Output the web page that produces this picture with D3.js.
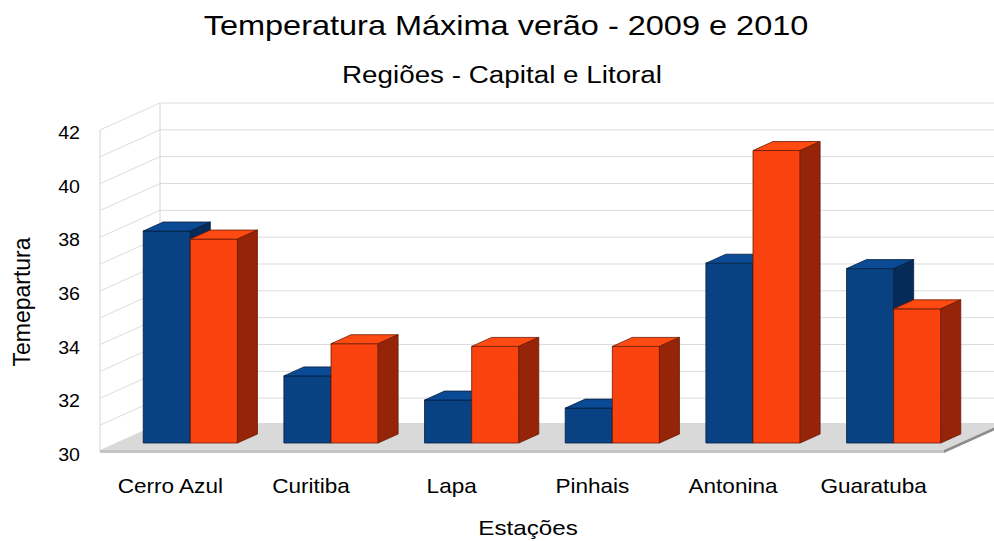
<!DOCTYPE html>
<html>
<head>
<meta charset="utf-8">
<script src="https://cdn.jsdelivr.net/npm/d3@7"></script>
<style>
  body { margin: 0; background: #fff; }
  svg text { font-family: "Liberation Sans", Arial, sans-serif; fill: #000; }
</style>
</head>
<body>
<svg id="chart"></svg>
<script>
const width = 994;
const height = 541;

// data
const stations = ["Cerro Azul", "Curitiba", "Lapa", "Pinhais", "Antonina", "Guaratuba"];
const years = ["2009", "2010"];
const max2009 = [37.9, 32.5, 31.6, 31.3, 36.7, 36.5];
const max2010 = [37.6, 33.7, 33.6, 33.6, 40.9, 35.0];
const yTicks = [30, 32, 34, 36, 38, 40, 42];

const colors = {
  "2009": {front: "#084283", top: "#0b4a94", side: "#072b59", line: "#05203f"},
  "2010": {front: "#fa420f", top: "#ff4a12", side: "#952409", line: "#6a1a05"}
};

// depth of the "3d" box (back wall offset)
const depth = [60, -27];

const svg = d3.select('#chart')
    .attr('width', width)
    .attr('height', height)
    .attr('viewBox', [0, 0, width, height]);

const x = d3.scaleBand(stations, [100, 944]).paddingInner(0.33).paddingOuter(0.165);
const xs = d3.scaleBand(years, [0, x.bandwidth()]);
const y = d3.scaleLinear([30, 42], [452, 130]);

// ---- walls & grid
const grid = svg.append('g').attr('id', 'grid');
const gridValues = d3.range(30, 43);
const x0 = x.range()[0], x1 = x.range()[1];

grid.selectAll('line.back')
  .data(gridValues)
  .enter().append('line')
    .attr('class', 'back')
    .attr('x1', x0 + depth[0]).attr('x2', x1 + depth[0])
    .attr('y1', d => y(d) + depth[1]).attr('y2', d => y(d) + depth[1])
    .attr('stroke', '#dcdcdc').attr('stroke-width', 1);

grid.selectAll('line.side')
  .data(gridValues)
  .enter().append('line')
    .attr('class', 'side')
    .attr('x1', x0).attr('x2', x0 + depth[0])
    .attr('y1', d => y(d)).attr('y2', d => y(d) + depth[1])
    .attr('stroke', '#dcdcdc').attr('stroke-width', 1);

grid.append('line')
    .attr('x1', x0).attr('x2', x0)
    .attr('y1', y(30)).attr('y2', y(42))
    .attr('stroke', '#d4d4d4');
grid.append('line')
    .attr('x1', x0 + depth[0]).attr('x2', x0 + depth[0])
    .attr('y1', y(30) + depth[1]).attr('y2', y(42) + depth[1])
    .attr('stroke', '#d4d4d4');

// ---- floor
const fy = y(30) - 2, thick = 3;
const floor = svg.append('g').attr('id', 'floor');
floor.append('path')
    .attr('d', `M${x0},${fy} L${x1},${fy} L${x1 + depth[0]},${fy + depth[1]} L${x0 + depth[0]},${fy + depth[1]} Z`)
    .attr('fill', '#d9d9d9');
floor.append('path')
    .attr('d', `M${x0},${fy} L${x1},${fy} L${x1},${fy + thick} L${x0},${fy + thick} Z`)
    .attr('fill', '#c4c4c4');
floor.append('path')
    .attr('d', `M${x1},${fy} L${x1 + depth[0]},${fy + depth[1]} L${x1 + depth[0]},${fy + depth[1] + thick} L${x1},${fy + thick} Z`)
    .attr('fill', '#8c8c8c');

// ---- bars (sit in the middle third of the depth)
const off = [depth[0] / 3, depth[1] / 3];
const bd = [depth[0] / 3, depth[1] / 3];
const bars = [];
stations.forEach((s, i) => {
  bars.push({station: s, year: "2009", value: max2009[i]});
  bars.push({station: s, year: "2010", value: max2010[i]});
});

const barG = svg.append('g').attr('id', 'bars')
  .selectAll('g')
  .data(bars)
  .enter().append('g');

barG.each(function(d) {
  const g = d3.select(this);
  const c = colors[d.year];
  const left = x(d.station) + xs(d.year) + off[0];
  const right = left + xs.bandwidth();
  const bottom = y(30) + off[1];
  const top = y(d.value) + off[1];
  g.append('path')
    .attr('d', `M${left},${top} L${right},${top} L${right},${bottom} L${left},${bottom} Z`)
    .attr('fill', c.front).attr('stroke', c.line).attr('stroke-width', 0.8);
  g.append('path')
    .attr('d', `M${left},${top} L${left + bd[0]},${top + bd[1]} L${right + bd[0]},${top + bd[1]} L${right},${top} Z`)
    .attr('fill', c.top).attr('stroke', c.line).attr('stroke-width', 0.8);
  g.append('path')
    .attr('d', `M${right},${top} L${right + bd[0]},${top + bd[1]} L${right + bd[0]},${bottom + bd[1]} L${right},${bottom} Z`)
    .attr('fill', c.side).attr('stroke', c.line).attr('stroke-width', 0.8);
});

// ---- text (the original glyphs are a bit wider than Liberation Sans, so stretch x)
function label(px, py, str, size, sx, anchor) {
  return svg.append('text')
    .attr('transform', `translate(${px},${py}) scale(${sx},1)`)
    .attr('text-anchor', anchor || 'middle')
    .attr('font-size', size + 'px')
    .text(str);
}

yTicks.forEach(d => label(80, y(d) + 9, d, 17.5, 1.12, 'end'));

stations.forEach(d => label(x(d) + x.bandwidth() / 2, 493, d, 20.5, 1.1));

label(506, 35, 'Temperatura Máxima verão - 2009 e 2010', 28, 1.16);
label(502, 83, 'Regiões - Capital e Litoral', 23, 1.21);
label(528, 535, 'Estações', 20.5, 1.18);

svg.append('text')
    .attr('transform', `translate(30,302) rotate(-90)`)
    .attr('text-anchor', 'middle')
    .attr('font-size', '23px')
    .text('Temepartura');
</script>
</body>
</html>
